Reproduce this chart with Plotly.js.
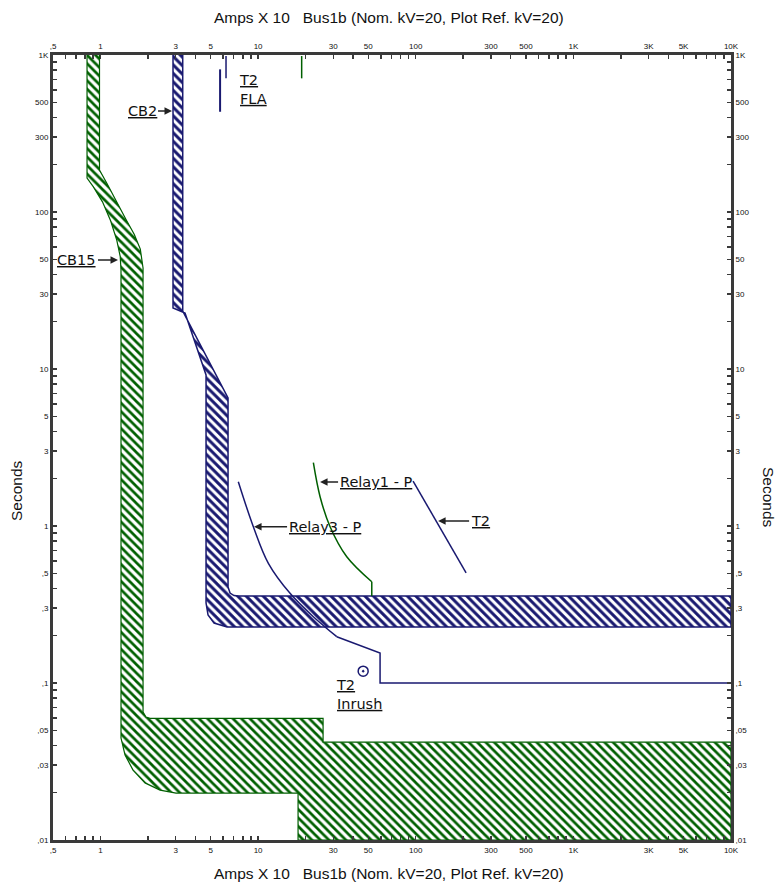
<!DOCTYPE html>
<html>
<head>
<meta charset="utf-8">
<script src="https://cdn.plot.ly/plotly-3.0.1.min.js"></script>
<style>html,body{margin:0;padding:0;background:#fff;}#chart{width:780px;height:890px;}</style>
</head>
<body>
<div id="chart"></div>
<script>
// ---- axis ticks ----
const xTickLabels = {0.5: ',5', 1: '1', 3: '3', 5: '5', 10: '10', 30: '30', 50: '50', 100: '100', 300: '300', 500: '500', 1000: '1K', 3000: '3K', 5000: '5K', 10000: '10K'};
const yTickLabels = {0.01: ',01', 0.03: ',03', 0.05: ',05', 0.1: ',1', 0.3: ',3', 0.5: ',5', 1: '1', 3: '3', 5: '5', 10: '10', 30: '30', 50: '50', 100: '100', 300: '300', 500: '500', 1000: '1K'};

// ---- CB15 band (Amps x10, seconds) ----
const cb15Amps = [0.986, 0.986, 1.10, 1.25, 1.45, 1.64, 1.79, 1.863, 1.863, 1.946, 2.063, 25.84, 25.84, 10000, 10000, 17.93, 17.93, 3.016, 2.388, 1.918, 1.609, 1.432, 1.350, 1.350, 1.350, 1.335, 1.27, 1.16, 1.03, 0.90, 0.822, 0.822];
const cb15Secs = [1000, 185.1, 152, 118, 90, 72, 58, 44.0, 0.0654, 0.0607, 0.0596, 0.0596, 0.042, 0.042, 0.01, 0.01, 0.0199, 0.0199, 0.0208, 0.0231, 0.0279, 0.0348, 0.0446, 0.0502, 42.7, 52, 66, 88, 116, 145, 164.7, 1000];

// ---- CB2 band ----
const cb2Amps = [2.886, 2.886, 3.44, 4.675, 4.675, 4.814, 5.255, 6.354, 10000, 10000, 7.570, 7.038, 6.639, 6.447, 6.447, 3.326, 3.326];
const cb2Secs = [1000, 24.5, 22.7, 9.16, 0.3233, 0.2711, 0.2411, 0.2274, 0.2274, 0.3581, 0.3581, 0.3607, 0.3742, 0.4088, 6.54, 23.4, 1000];

// ---- Relay3 - P (curve, then definite-time tail) ----
const relay3CurveAmps = [7.49, 9.33, 11.62, 15.95, 22.42, 31.55];
const relay3CurveSecs = [1.915, 0.990, 0.5787, 0.3726, 0.2644, 0.1972];
const relay3TailAmps = [31.55, 59.4, 59.4, 10000];
const relay3TailSecs = [0.1972, 0.1553, 0.1, 0.1];

// ---- Relay1 - P ----
const relay1CurveAmps = [22.42, 24.73, 28.62, 36.52, 52.63];
const relay1CurveSecs = [2.530, 1.537, 0.990, 0.6374, 0.4417];
const relay1TailAmps = [52.63, 52.63];
const relay1TailSecs = [0.4417, 0.3581];

// ---- T2 damage / FLA / inrush ----
const t2Amps = [96.2, 208.7];
const t2Secs = [1.934, 0.502];
const t2FlaAmps = [5.74, 5.74];
const t2FlaSecs = [810, 435];
const t2FlaBAmps = [6.26, 6.26];
const t2FlaBSecs = [985, 710];
const cb15FlaAmps = [18.9, 18.9];
const cb15FlaSecs = [985, 710];
const inrushAmps = [46.4];
const inrushSecs = [0.119];

const NAVY = 'rgb(25,25,112)';
const GREEN = 'rgb(0,95,0)';

function ticks(lo, hi, labels) {
  const vals = [], text = [];
  for (let e = lo; e < hi; e++) {
    for (let m = 1; m <= 9; m++) {
      const v = +(m * Math.pow(10, e)).toPrecision(6);
      vals.push(v);
      text.push(labels[v] !== undefined ? labels[v] : '');
    }
  }
  const top = Math.pow(10, hi);
  vals.push(top); text.push(labels[top] || '');
  return {vals, text};
}
const xt = ticks(-1, 4, xTickLabels);
const yt = ticks(-2, 3, yTickLabels);
const xv = [], xtt = [];
xt.vals.forEach((v, i) => { if (v >= 0.5) { xv.push(v); xtt.push(xt.text[i]); } });

const tickFont = {family: 'Liberation Sans, Arial, sans-serif', size: 8, color: '#111'};
const axBase = {
  type: 'log', showgrid: false, zeroline: false, showline: true, linewidth: 3, linecolor: '#3a3a3a',
  ticks: 'inside', ticklen: 4, tickwidth: 1.5, tickcolor: '#3a3a3a', tickfont: tickFont, fixedrange: true,
  tickmode: 'array'
};
const xRange = [Math.log10(0.5), 4];
const yRange = [-2, 3];

const traces = [
  {x: cb15Amps, y: cb15Secs, type: 'scatter', mode: 'lines', fill: 'toself', fillcolor: 'white',
   fillpattern: {shape: '\\', fgcolor: GREEN, bgcolor: 'white', size: 6, solidity: 0.45},
   line: {color: GREEN, width: 1.2}, hoverinfo: 'skip'},
  {x: cb2Amps, y: cb2Secs, type: 'scatter', mode: 'lines', fill: 'toself', fillcolor: 'white',
   fillpattern: {shape: '\\', fgcolor: NAVY, bgcolor: 'white', size: 6, solidity: 0.5},
   line: {color: NAVY, width: 1.5}, hoverinfo: 'skip'},
  {x: relay3CurveAmps, y: relay3CurveSecs, type: 'scatter', mode: 'lines', line: {color: NAVY, width: 1.5, shape: 'spline', smoothing: 1}},
  {x: relay3TailAmps, y: relay3TailSecs, type: 'scatter', mode: 'lines', line: {color: NAVY, width: 1.5}},
  {x: relay1CurveAmps, y: relay1CurveSecs, type: 'scatter', mode: 'lines', line: {color: GREEN, width: 1.5, shape: 'spline', smoothing: 1}},
  {x: relay1TailAmps, y: relay1TailSecs, type: 'scatter', mode: 'lines', line: {color: GREEN, width: 1.5}},
  {x: t2Amps, y: t2Secs, type: 'scatter', mode: 'lines', line: {color: NAVY, width: 1.5}, xaxis: 'x2', yaxis: 'y2'},
  {x: t2FlaAmps, y: t2FlaSecs, type: 'scatter', mode: 'lines', line: {color: NAVY, width: 2}, xaxis: 'x2', yaxis: 'y2'},
  {x: t2FlaBAmps, y: t2FlaBSecs, type: 'scatter', mode: 'lines', line: {color: NAVY, width: 1.5}, xaxis: 'x2', yaxis: 'y2'},
  {x: cb15FlaAmps, y: cb15FlaSecs, type: 'scatter', mode: 'lines', line: {color: GREEN, width: 1.5}, xaxis: 'x2', yaxis: 'y2'},
  {x: inrushAmps, y: inrushSecs, type: 'scatter', mode: 'markers', xaxis: 'x2', yaxis: 'y2',
   marker: {symbol: 'circle-dot', size: 10, color: 'white', line: {color: NAVY, width: 1.5}}}
];

const lblFont = {family: 'DejaVu Sans, sans-serif', size: 14.5, color: '#111'};
function arrowAnn(text, x, y, ax) {
  return {x: Math.log10(x), y: Math.log10(y), xref: 'x', yref: 'y', text: '<u>' + text + '</u>', showarrow: true,
    arrowhead: 2, arrowsize: 1, arrowwidth: 1.5, arrowcolor: '#222', ax: ax, ay: 0, font: lblFont, standoff: 0};
}
const titleText = 'Amps X 10\u00a0\u00a0 Bus1b (Nom. kV=20, Plot Ref. kV=20)';
const titleFont = {family: 'Liberation Sans, Arial, sans-serif', size: 15.5, color: '#111'};

const annotations = [
  arrowAnn('CB2', 2.845, 439.8, -30),
  arrowAnn('CB15', 1.292, 49.5, -41),
  arrowAnn('Relay3 - P', 9.43, 0.990, 71),
  arrowAnn('Relay1 - P', 24.73, 1.907, 56),
  arrowAnn('T2', 138.7, 1.076, 42),
  {x: Math.log10(7.354), y: Math.log10(607), xref: 'x', yref: 'y', text: '<u>T2</u><br><u>FLA</u>', showarrow: false,
   xanchor: 'left', yanchor: 'middle', align: 'left', font: lblFont},
  {x: Math.log10(30.34), y: Math.log10(0.0839), xref: 'x', yref: 'y', text: '<u>T2</u><br><u>Inrush</u>', showarrow: false,
   xanchor: 'left', yanchor: 'middle', align: 'left', font: lblFont},
  {x: 0.4956, y: 1.0484, xref: 'paper', yref: 'paper', text: titleText, showarrow: false, font: titleFont, xanchor: 'center', yanchor: 'middle'},
  {x: 0.4956, y: -0.0433, xref: 'paper', yref: 'paper', text: titleText, showarrow: false, font: titleFont, xanchor: 'center', yanchor: 'middle'},
  {x: -0.0531, y: 0.4459, xref: 'paper', yref: 'paper', text: 'Seconds', showarrow: false, textangle: -90, font: titleFont, xanchor: 'center', yanchor: 'middle'},
  {x: 1.0546, y: 0.437, xref: 'paper', yref: 'paper', text: 'Seconds', showarrow: false, textangle: 90, font: titleFont, xanchor: 'center', yanchor: 'middle'}
];

const layout = {
  width: 780, height: 890,
  margin: {l: 53, r: 49, t: 55, b: 50},
  paper_bgcolor: 'white', plot_bgcolor: 'white',
  showlegend: false, hovermode: false,
  xaxis: Object.assign({}, axBase, {range: xRange, tickvals: xv, ticktext: xtt, side: 'bottom', anchor: 'y'}),
  yaxis: Object.assign({}, axBase, {range: yRange, tickvals: yt.vals, ticktext: yt.text, side: 'left', anchor: 'x'}),
  xaxis2: Object.assign({}, axBase, {range: xRange, tickvals: xv, ticktext: xtt, side: 'top', overlaying: 'x', anchor: 'y2'}),
  yaxis2: Object.assign({}, axBase, {range: yRange, tickvals: yt.vals, ticktext: yt.text, side: 'right', overlaying: 'y', anchor: 'x2'}),
  annotations: annotations
};

Plotly.newPlot('chart', traces, layout, {staticPlot: true, displayModeBar: false});
</script>
</body>
</html>
